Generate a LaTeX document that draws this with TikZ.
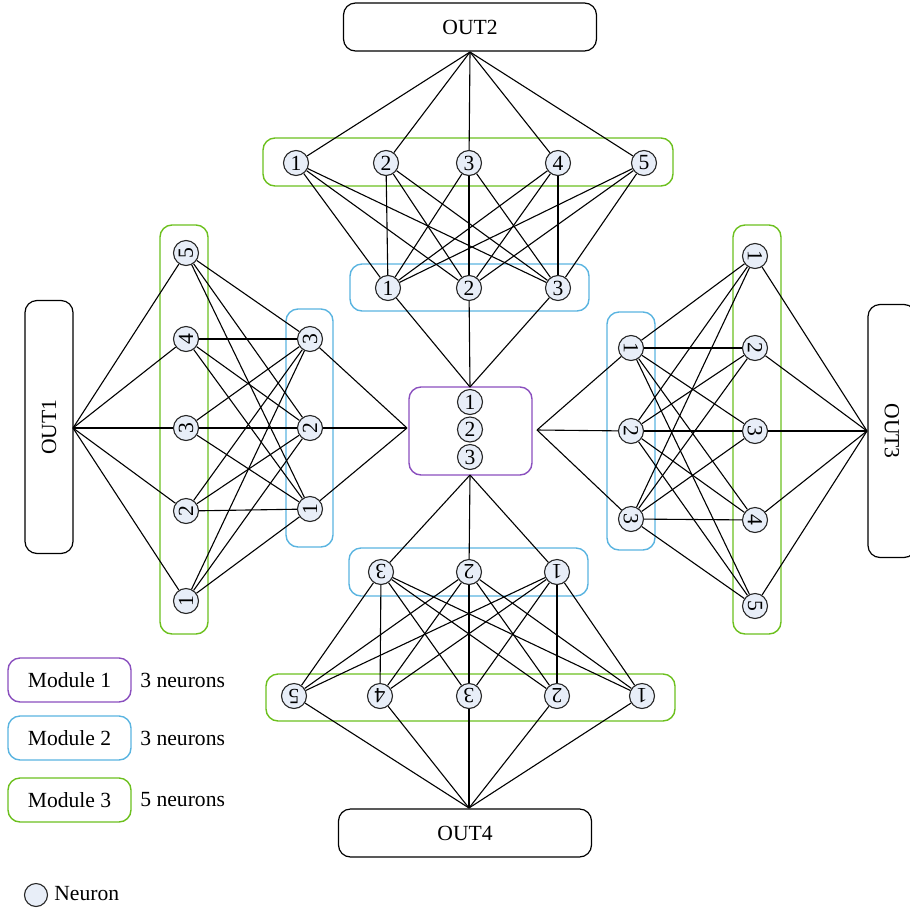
\documentclass[tikz,border=0pt]{standalone}
\usepackage{fontspec}
\setmainfont{Liberation Serif}
\definecolor{cmodA}{HTML}{8A4FBE}
\definecolor{cmodB}{HTML}{5AB4E0}
\definecolor{cmodC}{HTML}{6CC01E}
\definecolor{nfill}{HTML}{E8EEF8}
\begin{document}
\begin{tikzpicture}[x=0.5pt,y=-0.5pt,
  font=\fontsize{10.8}{12}\selectfont,
  neuron/.style={circle, draw=black!85, fill=nfill, line width=0.55pt, minimum size=12.5pt, inner sep=0pt},
  outbox/.style={draw=black, rounded corners=6pt, line width=0.6pt, minimum width=126.5pt, minimum height=24pt, inner sep=0pt},
  modAbox/.style={draw=cmodA, rounded corners=6pt, line width=0.7pt},
  modBbox/.style={draw=cmodB, rounded corners=6pt, line width=0.7pt},
  modCbox/.style={draw=cmodC, rounded corners=6pt, line width=0.7pt},
  legbox/.style={rounded corners=6pt, line width=0.7pt, minimum width=61.5pt, minimum height=22pt, inner sep=0pt},
  conn/.style={line width=0.55pt, black}]
\useasboundingbox (0,0) rectangle (910,911);
\clip (0,0) rectangle (910,911);

% ---------- module containers ----------
\draw[modCbox] (263,138) rectangle (673,186);
\draw[modBbox] (350,264) rectangle (589,311);
\draw[modCbox] (160,225) rectangle (208,634);
\draw[modBbox] (286,309) rectangle (333,547);
\draw[modCbox] (733,225) rectangle (781,634);
\draw[modBbox] (607,312) rectangle (655,550);
\draw[modCbox] (266,674) rectangle (675,721);
\draw[modBbox] (349,548) rectangle (588,596);

% ---------- output boxes ----------
\node[outbox] (O2) at (470,27) {OUT2};
\node[outbox, rotate=90] (O1) at (49,427) {OUT1};
\node[outbox, rotate=-90] (O3) at (892,431) {OUT3};
\node[outbox] (O4) at (465,833) {OUT4};
\coordinate (p2) at (470,52);
\coordinate (p1) at (73,428);
\coordinate (p3) at (867,431);
\coordinate (p4) at (469,808);

% ---------- center module ----------
\node[modAbox, minimum width=61.5pt, minimum height=44pt] (M1) at (470.5,431) {};
\node[neuron] (c1) at (470,402) {1};
\node[neuron] (c2) at (470,429.5) {2};
\node[neuron] (c3) at (470,457) {3};
\coordinate (cT) at (470,387);
\coordinate (cL) at (407,428);
\coordinate (cR) at (537,430);
\coordinate (cB) at (470,475);

% ---------- top ----------
\foreach \n/\x in {1/296,2/386,3/469,4/558,5/644}
  \node[neuron] (tg\n) at (\x,163) {\n};
\foreach \n/\x in {1/388,2/469,3/558}
  \node[neuron] (tb\n) at (\x,288) {\n};
% ---------- left ----------
\foreach \n/\y in {1/601,2/511,3/428,4/339,5/253}
  \node[neuron, rotate=90] (lg\n) at (186,\y) {\n};
\foreach \n/\y in {1/509,2/428,3/339}
  \node[neuron, rotate=90] (lb\n) at (310,\y) {\n};
% ---------- right ----------
\foreach \n/\y in {1/256,2/348,3/431,4/520,5/606}
  \node[neuron, rotate=-90] (rg\n) at (755,\y) {\n};
\foreach \n/\y in {1/348,2/431,3/519}
  \node[neuron, rotate=-90] (rb\n) at (631,\y) {\n};
% ---------- bottom ----------
\foreach \n/\x in {1/642,2/557,3/469,4/380,5/294}
  \node[neuron, rotate=180] (bg\n) at (\x,696) {\n};
\foreach \n/\x in {1/557,2/469,3/381}
  \node[neuron, rotate=180] (bb\n) at (\x,572) {\n};

% ---------- connectors ----------
\foreach \s/\p/\c in {t/p2/cT, l/p1/cL, r/p3/cR, b/p4/cB}{
  \foreach \i in {1,...,5}{
    \draw[conn] (\p) -- (\s g\i);
    \foreach \j in {1,2,3}
      \draw[conn] (\s g\i) -- (\s b\j);
  }
  \foreach \j in {1,2,3}
    \draw[conn] (\s b\j) -- (\c);
}

% ---------- legend ----------
\node[legbox, draw=cmodA] (L1) at (69.5,680) {Module 1};
\node[legbox, draw=cmodB] (L2) at (69.5,738) {Module 2};
\node[legbox, draw=cmodC] (L3) at (69.5,800) {Module 3};
\node[anchor=west, inner sep=0pt] (T1) at (140,680) {3 neurons};
\node[anchor=west, inner sep=0pt] (T2) at (140,738) {3 neurons};
\node[anchor=west, inner sep=0pt] (T3) at (140,800) {5 neurons};
\node[neuron, minimum size=11.5pt] (LN) at (36,895) {};
\node[anchor=west, inner sep=0pt] (TN) at (54,894) {Neuron};
\end{tikzpicture}
\end{document}
